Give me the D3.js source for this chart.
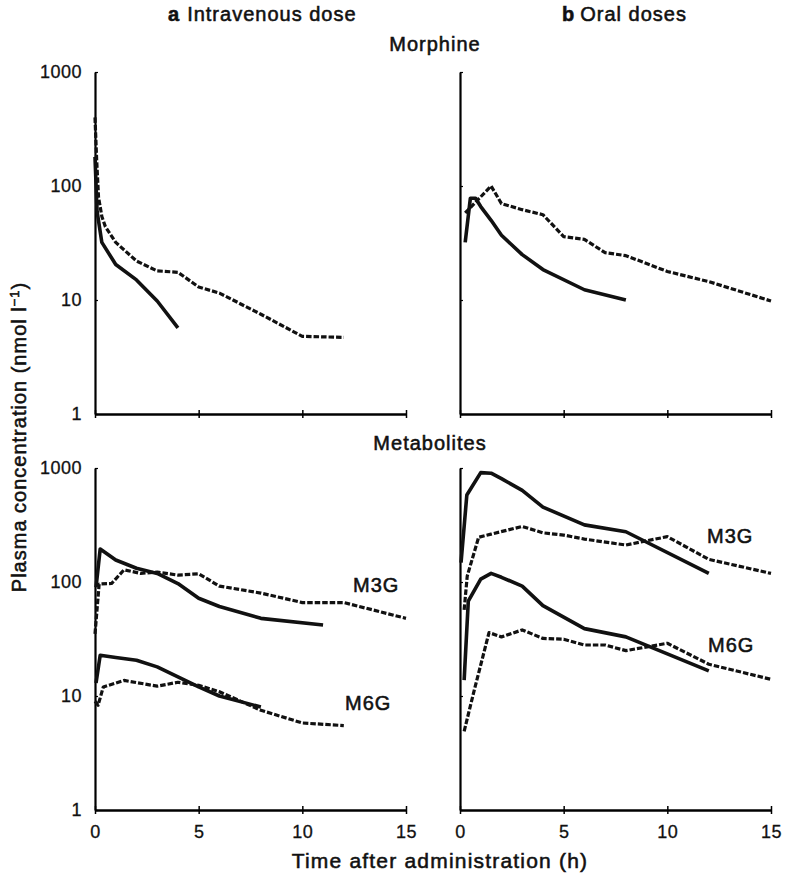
<!DOCTYPE html>
<html>
<head>
<meta charset="utf-8">
<script src="https://cdn.jsdelivr.net/npm/d3@7"></script>
<style>
  body { margin: 0; background: #fff; }
  text { font-family: "Liberation Sans", Arial, sans-serif; fill: #111; }
  .heavy { stroke: #111; stroke-width: 0.55px; }
  .tick text { stroke: #111; stroke-width: 0.3px; }
</style>
</head>
<body>
<script>
// time (h) and plasma concentration (nmol/l)
var ivMorphineSolidT = [0, 0.1, 0.33, 1, 2, 3, 4];
var ivMorphineSolidV = [180, 60, 32, 20.5, 15, 9.8, 5.7];
var ivMorphineDashT = [0, 0.08, 0.17, 0.33, 0.5, 1, 2, 3, 4, 5, 6, 8, 10, 12];
var ivMorphineDashV = [400, 170, 80, 54, 44, 32, 22, 18, 17.5, 13, 11.5, 7.5, 4.8, 4.7];

var oralMorphineSolidT = [0.25, 0.5, 0.75, 1, 1.5, 2, 3, 4, 6, 8];
var oralMorphineSolidV = [32, 78, 78, 66, 50, 37, 25, 18.5, 12.3, 10];
var oralMorphineDashT = [0.25, 1.5, 2, 3, 4, 5, 6, 7, 8, 10, 12, 15];
var oralMorphineDashV = [58, 100, 70, 62, 56, 36, 34, 26, 24.5, 17.8, 14.5, 9.8];

var ivM3GSolidT = [0.05, 0.25, 1, 2, 3, 4, 5, 6, 8, 11];
var ivM3GSolidV = [90, 195, 156, 132, 119, 97, 72, 61, 48, 42];
var ivM3GDashT = [0, 0.2, 0.8, 1.4, 2.2, 3, 4, 5, 6, 8, 10, 12, 15];
var ivM3GDashV = [35, 96, 97, 128, 119, 122, 115, 118, 92, 80, 66, 66, 48];
var ivM6GSolidT = [0.05, 0.25, 1, 2, 3, 4, 5, 6, 8];
var ivM6GSolidV = [13, 22.8, 21.8, 20.6, 18, 14.7, 12, 10, 8];
var ivM6GDashT = [0, 0.15, 0.4, 1.4, 3, 4, 5, 6, 8, 10, 12];
var ivM6GDashV = [9, 8.3, 12, 13.7, 12.2, 13.2, 12.4, 10.9, 7.5, 5.8, 5.5];

var oralM3GSolidT = [0.05, 0.33, 1, 1.5, 2, 3, 4, 6, 8, 12];
var oralM3GSolidV = [148, 580, 910, 900, 806, 636, 454, 317, 276, 119];
var oralM3GDashT = [0.2, 0.35, 0.9, 1.5, 3, 4, 5, 6, 8, 10, 12, 15];
var oralM3GDashV = [57, 113, 247, 263, 307, 270, 258, 238, 211, 250, 158, 119];
var oralM6GSolidT = [0.2, 0.4, 1, 1.5, 2, 3, 4, 6, 8, 12];
var oralM6GSolidV = [13.8, 68, 106, 119, 110, 92, 62, 39, 33, 16.6];
var oralM6GDashT = [0.2, 0.7, 1.4, 2, 3, 4, 5, 6, 7, 8, 10, 12, 15];
var oralM6GDashV = [4.9, 11.5, 36, 33, 38, 32, 31.5, 28, 28, 25, 29, 19, 14];

var xTicks = [0, 5, 10, 15];
var yTicks = [1, 10, 100, 1000];

function pts(t, v) {
    return t.map(function(d, i) { return [d, v[i]]; });
}

var panels = [
    { left: 95, top: 72, bottom: 414, yLabels: true, xLabels: false,
      lines: [[ivMorphineSolidT, ivMorphineSolidV, false], [ivMorphineDashT, ivMorphineDashV, true]] },
    { left: 460, top: 72, bottom: 414, yLabels: false, xLabels: false,
      lines: [[oralMorphineSolidT, oralMorphineSolidV, false], [oralMorphineDashT, oralMorphineDashV, true]] },
    { left: 95, top: 468, bottom: 810, yLabels: true, xLabels: true,
      lines: [[ivM3GSolidT, ivM3GSolidV, false], [ivM3GDashT, ivM3GDashV, true],
              [ivM6GSolidT, ivM6GSolidV, false], [ivM6GDashT, ivM6GDashV, true]],
      tags: [["M3G", 353, 592], ["M6G", 345, 710]] },
    { left: 460, top: 468, bottom: 810, yLabels: false, xLabels: true,
      lines: [[oralM3GSolidT, oralM3GSolidV, false], [oralM3GDashT, oralM3GDashV, true],
              [oralM6GSolidT, oralM6GSolidV, false], [oralM6GDashT, oralM6GDashV, true]],
      tags: [["M3G", 707, 543], ["M6G", 708, 652]] }
];
var panelWidth = 311;

var svg = d3.select("body").append("svg").attr("width", 786).attr("height", 873);

panels.forEach(function(p) {
    var x = d3.scaleLinear().domain([0, 15]).range([p.left, p.left + panelWidth]);
    var y = d3.scaleLog().domain([1, 1000]).range([p.bottom, p.top]);

    var xAxis = svg.append("g")
        .attr("transform", "translate(0," + p.bottom + ")")
        .call(d3.axisBottom(x).tickValues(xTicks).tickSizeOuter(0).tickSizeInner(4).tickPadding(8)
            .tickFormat(p.xLabels ? d3.format("d") : ""));
    xAxis.selectAll(".tick line").attr("y1", -4).attr("stroke-width", 1.5);
    xAxis.select(".domain").attr("stroke-width", 2.4);
    xAxis.selectAll("text").attr("font-size", 18).style("letter-spacing", "0.5px").attr("dy", "0.9em");

    var yAxis = svg.append("g")
        .attr("transform", "translate(" + p.left + ",0)")
        .call(d3.axisLeft(y).tickValues(yTicks).tickSizeOuter(0).tickSizeInner(3).tickPadding(10)
            .tickFormat(p.yLabels ? d3.format("d") : ""));
    yAxis.selectAll(".tick line").attr("x2", 3).attr("stroke-width", 1.2);
    yAxis.select(".domain").attr("stroke-width", 2.2);
    yAxis.selectAll("text").attr("font-size", 18).style("letter-spacing", "0.5px");

    var line = d3.line().x(function(d) { return x(d[0]); }).y(function(d) { return y(d[1]); });

    p.lines.forEach(function(l) {
        svg.append("path")
            .attr("d", line(pts(l[0], l[1])))
            .attr("fill", "none")
            .attr("stroke", "#111")
            .attr("stroke-width", l[2] ? 3.2 : 3.6)
            .attr("stroke-linejoin", "round")
            .attr("stroke-dasharray", l[2] ? "5.5,2" : null);
    });

    (p.tags || []).forEach(function(t) {
        svg.append("text").attr("class", "heavy").attr("x", t[1]).attr("y", t[2])
            .attr("font-size", 20).style("letter-spacing", "1px").text(t[0]);
    });
});

// titles
var ta = svg.append("text").attr("class", "heavy").attr("x", 168).attr("y", 21).attr("font-size", 20).style("letter-spacing", "1px");
ta.append("tspan").attr("font-weight", "bold").text("a");
ta.append("tspan").attr("dx", 7).text("Intravenous dose");

var tb = svg.append("text").attr("class", "heavy").attr("x", 562).attr("y", 21).attr("font-size", 20).style("letter-spacing", "1px");
tb.append("tspan").attr("font-weight", "bold").text("b");
tb.append("tspan").attr("dx", 5).text("Oral doses");

svg.append("text").attr("class", "heavy").attr("x", 435).attr("y", 51).attr("text-anchor", "middle")
    .attr("font-size", 20).style("letter-spacing", "1px").text("Morphine");
svg.append("text").attr("class", "heavy").attr("x", 430).attr("y", 450).attr("text-anchor", "middle")
    .attr("font-size", 20).style("letter-spacing", "1px").text("Metabolites");

svg.append("text").attr("class", "heavy").attr("x", 440).attr("y", 868).attr("text-anchor", "middle")
    .attr("font-size", 21).style("letter-spacing", "1.2px").text("Time after administration (h)");

var yl = svg.append("text").attr("class", "heavy")
    .attr("transform", "translate(26,437) rotate(-90)")
    .attr("text-anchor", "middle")
    .attr("font-size", 20).style("letter-spacing", "1px");
yl.append("tspan").text("Plasma concentration (nmol l");
yl.append("tspan").attr("baseline-shift", "super").attr("font-size", 13).text("\u22121");
yl.append("tspan").text(")");
</script>
</body>
</html>
